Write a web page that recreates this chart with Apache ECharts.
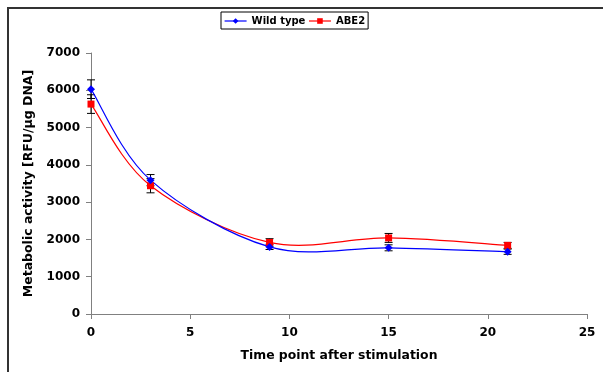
<!DOCTYPE html>
<html><head><meta charset="utf-8">
<script src="https://cdn.jsdelivr.net/npm/echarts@6/dist/echarts.min.js"></script>
<style>html,body{margin:0;padding:0;background:#fff}#c{width:603px;height:372px}</style>
</head><body><div id="c"></div>
<script>
const timePoints = [0, 3, 9, 15, 21];
const wildType = [6030, 3590, 1800, 1775, 1670];
const wildTypeErr = [250, 150, 70, 80, 70];
const abe2 = [5630, 3440, 1920, 2040, 1840];
const abe2Err = [250, 190, 100, 120, 80];
const xTicks = [0, 5, 10, 15, 20, 25];
const yTicks = [0, 1000, 2000, 3000, 4000, 5000, 6000, 7000];

const font = 'DejaVu Sans';
function pairs(xs, ys){ return xs.map((x,i)=>[x, ys[i]]); }
function errData(xs, ys, es){ return xs.map((x,i)=>[x, ys[i]-es[i], ys[i]+es[i]]); }
function errSeries(data){
  return {
    type:'custom', silent:true, z:1,
    data: data,
    renderItem: function(params, api){
      const x = api.value(0);
      const lo = api.coord([x, api.value(1)]);
      const hi = api.coord([x, api.value(2)]);
      const w = 4;
      const st = {stroke:'#000', lineWidth:1};
      return {type:'group', children:[
        {type:'line', shape:{x1:lo[0],y1:lo[1],x2:hi[0],y2:hi[1]}, style:st},
        {type:'line', shape:{x1:lo[0]-w,y1:lo[1],x2:lo[0]+w,y2:lo[1]}, style:st},
        {type:'line', shape:{x1:hi[0]-w,y1:hi[1],x2:hi[0]+w,y2:hi[1]}, style:st}
      ]};
    }
  };
}
// smooth curve (Catmull-Rom style, like spreadsheet smoothing) through library coordinates
function curveSeries(xs, ys, color){
  return {
    type:'custom', silent:true, z:2,
    data:[[xs[0], ys[0]]],
    renderItem: function(params, api){
      const P = xs.map((x,i)=>api.coord([x, ys[i]]));
      let d = 'M' + P[0][0] + ' ' + P[0][1];
      for (let i = 0; i < P.length - 1; i++) {
        const p0 = P[Math.max(i-1,0)], p1 = P[i], p2 = P[i+1], p3 = P[Math.min(i+2,P.length-1)];
        const c1 = [p1[0] + (p2[0]-p0[0])/6, p1[1] + (p2[1]-p0[1])/6];
        const c2 = [p2[0] - (p3[0]-p1[0])/6, p2[1] - (p3[1]-p1[1])/6];
        d += ' C' + c1[0] + ' ' + c1[1] + ' ' + c2[0] + ' ' + c2[1] + ' ' + p2[0] + ' ' + p2[1];
      }
      return {type:'path', shape:{pathData:d}, style:{fill:null, stroke:color, lineWidth:1.2}};
    }
  };
}
const chart = echarts.init(document.getElementById('c'), null, {renderer:'canvas'});
chart.setOption({
  animation:false,
  graphic:[{type:'rect', shape:{x:8,y:8,width:700,height:500}, style:{fill:null, stroke:'#333', lineWidth:2}, silent:true}],
  grid:{left:91, right:16, top:53, bottom:58},
  legend:{
    top:12, left:221, itemWidth:22, itemHeight:7, itemGap:3,
    padding:[4,3,3,3],
    borderColor:'#000', borderWidth:1,
    textStyle:{fontFamily:font, fontWeight:'bold', fontSize:10, color:'#000'},
    data:[
      {name:'Wild type', lineStyle:{opacity:1, color:'#0000ff', width:1.2}},
      {name:'ABE2', lineStyle:{opacity:1, color:'#ff0000', width:1.2}}
    ]
  },
  xAxis:{
    type:'value', min:0, max:25, interval:5,
    name:'Time point after stimulation', nameLocation:'middle', nameGap:36,
    nameTextStyle:{fontFamily:font, fontWeight:'bold', fontSize:12.4, color:'#000'},
    axisLine:{lineStyle:{color:'#808080', width:1}},
    axisTick:{show:true, length:5, lineStyle:{color:'#808080'}},
    axisLabel:{fontFamily:font, fontWeight:'bold', fontSize:12, color:'#000', margin:13,
      customValues: xTicks},
    splitLine:{show:false}
  },
  yAxis:{
    type:'value', min:0, max:7000, interval:1000,
    name:'Metabolic activity [RFU/µg DNA]', nameLocation:'middle', nameGap:55, nameRotate:90,
    nameTextStyle:{fontFamily:font, fontWeight:'bold', fontSize:12.5, color:'#000'},
    axisLine:{show:true, lineStyle:{color:'#808080', width:1}},
    axisTick:{show:true, length:5, lineStyle:{color:'#808080'}},
    axisLabel:{fontFamily:font, fontWeight:'bold', fontSize:12, color:'#000', margin:11,
      formatter: v => String(v)},
    splitLine:{show:false}
  },
  series:[
    errSeries(errData(timePoints, wildType, wildTypeErr)),
    errSeries(errData(timePoints, abe2, abe2Err)),
    curveSeries(timePoints, abe2, '#ff0000'),
    curveSeries(timePoints, wildType, '#0000ff'),
    {name:'Wild type', type:'line', data:pairs(timePoints, wildType),
     symbol:'diamond', symbolSize:8, z:4,
     lineStyle:{color:'#0000ff', width:1.2, opacity:0}, itemStyle:{color:'#0000ff'}},
    {name:'ABE2', type:'line', data:pairs(timePoints, abe2),
     symbol:'rect', symbolSize:7, z:3,
     lineStyle:{color:'#ff0000', width:1.2, opacity:0}, itemStyle:{color:'#ff0000'}}
  ]
});
</script></body></html>
